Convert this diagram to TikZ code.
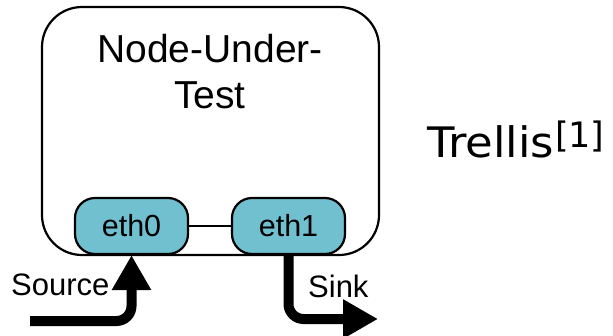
\documentclass[tikz,border=0pt]{standalone}
\usepackage{fontspec}
\setmainfont{Liberation Sans}
\newfontfamily\trellisfont{DejaVu Sans}
\usetikzlibrary{arrows.meta}
\definecolor{ethfill}{RGB}{112,192,208}
\tikzset{
  ethbox/.style={draw=black, line width=2.2pt, fill=ethfill, rounded corners=20pt,
    minimum width=113pt, minimum height=56pt, inner sep=0pt,
    font=\fontsize{30.5pt}{33pt}\selectfont},
  flow/.style={line width=10pt, rounded corners=15pt,
    -{Triangle[length=35pt,width=37pt]}},
  lbl/.style={font=\fontsize{31pt}{34pt}\selectfont, inner sep=0pt}
}
\begin{document}
\begin{tikzpicture}[x=1pt,y=-1pt]
\useasboundingbox (0,0) rectangle (613,335);
\draw[line width=2.2pt, rounded corners=40pt] (42,7) rectangle (379,255);
\node[align=center, inner sep=0pt, font=\fontsize{39pt}{46pt}\selectfont] (nut) at (210,72) {Node-Under-\\Test};
\node[ethbox] (eth0) at (131.5,226) {eth0};
\node[ethbox] (eth1) at (288.5,226) {eth1};
\draw[line width=2.8pt] (eth0.east) -- (eth1.west);
\coordinate (srcstart) at (30,321);
\coordinate (sinkend) at (378,319);
\draw[flow] (srcstart) -| (eth0.south);
\draw[flow] (eth1.south) |- (sinkend);
\node[lbl, anchor=base west] (source) at (11,295) {Source};
\node[lbl, anchor=base west] (sink) at (308,297) {Sink};
\node[anchor=base west, inner sep=0pt, font=\trellisfont\fontsize{42pt}{46pt}\selectfont] (trellis) at (427,157) {\scalebox{1.07}[1]{Trellis}\hspace{1pt}\raisebox{10pt}{\fontsize{35pt}{40pt}\selectfont[1]}};
\end{tikzpicture}
\end{document}
